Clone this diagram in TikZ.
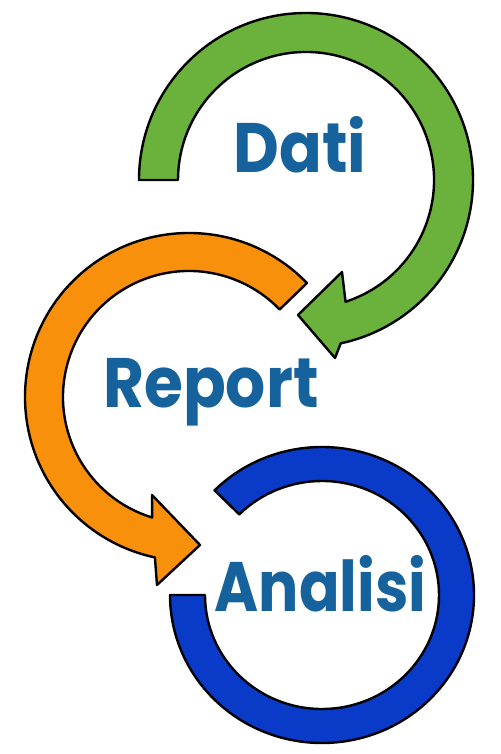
\documentclass[tikz,border=0pt]{standalone}
\usepackage{fontspec}
\newfontfamily\popfont{Poppins}
\definecolor{arrgreen}{HTML}{6AB23C}
\definecolor{arrorange}{HTML}{F8900C}
\definecolor{arrblue}{HTML}{0A3AC8}
\definecolor{txtblue}{HTML}{15629C}
\begin{document}
\begin{tikzpicture}[x=1pt,y=1pt,
  band/.style={draw=black,line width=2.4pt,line join=round},
  word/.style={inner sep=0pt,anchor=base,text=txtblue,font=\popfont\bfseries\fontsize{70}{70}\selectfont}]
\useasboundingbox (0,0) rectangle (500,754);
% green arrow (top)
\filldraw[band,fill=arrgreen]
  ([shift={(306,574)}]180:167) arc[start angle=180,end angle=-78,radius=167]
  -- (335,396) -- (298,439) -- (342,482)
  -- ([shift={(306,574)}]-72:128) arc[start angle=-72,end angle=180,radius=128] -- cycle;
% orange arrow (middle)
\filldraw[band,fill=arrorange]
  ([shift={(189,357)}]44:164) arc[start angle=44,end angle=258,radius=164]
  -- (157,169) -- (200,209) -- (152,259)
  -- ([shift={(189,357)}]253:126) arc[start angle=253,end angle=44,radius=126] -- cycle;
% blue ring (bottom)
\filldraw[band,fill=arrblue]
  ([shift={(322,159)}]135:152 and 148) arc[start angle=135,end angle=-180,x radius=152,y radius=148]
  -- ([shift={(322,159)}]180:117 and 114) arc[start angle=-180,end angle=135,x radius=117,y radius=114] -- cycle;
% labels
\node[word,xscale=0.9] (dati) at (300,581) {Dati};
\node[word,xscale=0.9] (report) at (211,346) {Report};
\node[word,xscale=0.855] (analisi) at (320.5,142) {Analisi};
\end{tikzpicture}
\end{document}
